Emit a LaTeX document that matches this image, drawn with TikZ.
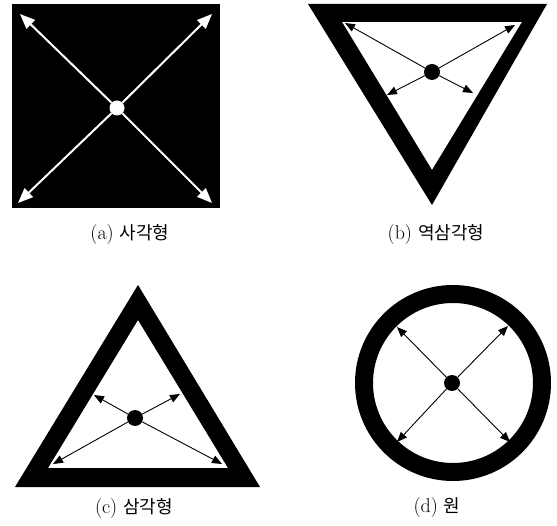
\documentclass[tikz,border=0pt]{standalone}
\usepackage{fontspec}
\newfontfamily\kr{Noto Sans CJK KR}
\usetikzlibrary{arrows.meta}
\newcommand{\krtext}[1]{{\fontsize{18}{20}\selectfont\kr #1}}
\begin{document}
\begin{tikzpicture}[x=1pt,y=-1pt,
  whitearrow/.style={draw=white,line width=2pt,-{Triangle[length=15pt,width=12pt]}},
  blackarrow/.style={draw=black,line width=0.9pt,-{Triangle[length=10pt,width=8pt]}},
  dot/.style={circle,fill=black,inner sep=0pt,minimum size=16pt},
  wdot/.style={circle,fill=white,inner sep=0pt,minimum size=15pt},
  caption/.style={font=\fontsize{20}{22}\selectfont,inner sep=0pt}]
\useasboundingbox[fill=white] (0,0) rectangle (557,526);

% (a) square
\fill[black] (12,4) rectangle (220,208);
\node[wdot] (ac) at (117,108) {};
\coordinate (a1) at (20,14);
\coordinate (a2) at (212,14);
\coordinate (a3) at (18,203);
\coordinate (a4) at (212,203);
\foreach \t in {a1,a2,a3,a4} \draw[whitearrow] (ac) -- (\t);
\node[caption] (al) at (130,234) {(a) \krtext{사각형}};

% (b) inverted triangle
\fill[black,even odd rule] (308,4) -- (547,4) -- (432,205) -- cycle
  (342,22) -- (522,22) -- (432,170) -- cycle;
\node[dot] (bc) at (432,72) {};
\coordinate (b1) at (345,23);
\coordinate (b2) at (515,25);
\coordinate (b3) at (387,95);
\coordinate (b4) at (473,93);
\foreach \t in {b1,b2,b3,b4} \draw[blackarrow] (bc) -- (\t);
\node[caption] (bl) at (436,234) {(b) \krtext{역삼각형}};

% (c) triangle
\fill[black,even odd rule] (138,285) -- (260,487) -- (15,487) -- cycle
  (138,320) -- (228,468) -- (48,468) -- cycle;
\node[dot] (cc) at (135,418) {};
\coordinate (c1) at (94,395);
\coordinate (c2) at (180,394);
\coordinate (c3) at (53,464);
\coordinate (c4) at (222,464);
\foreach \t in {c1,c2,c3,c4} \draw[blackarrow] (cc) -- (\t);
\node[caption] (cl) at (134,508) {(c) \krtext{삼각형}};

% (d) circle
\fill[black,even odd rule] (453,383) circle[radius=98pt] (453,383) circle[radius=80pt];
\node[dot] (dc) at (452,383) {};
\coordinate (d1) at (397,327);
\coordinate (d2) at (508,326);
\coordinate (d3) at (397,442);
\coordinate (d4) at (510,442);
\foreach \t in {d1,d2,d3,d4} \draw[blackarrow] (dc) -- (\t);
\node[caption] (dl) at (437,508) {(d) \krtext{원}};
\end{tikzpicture}
\end{document}
